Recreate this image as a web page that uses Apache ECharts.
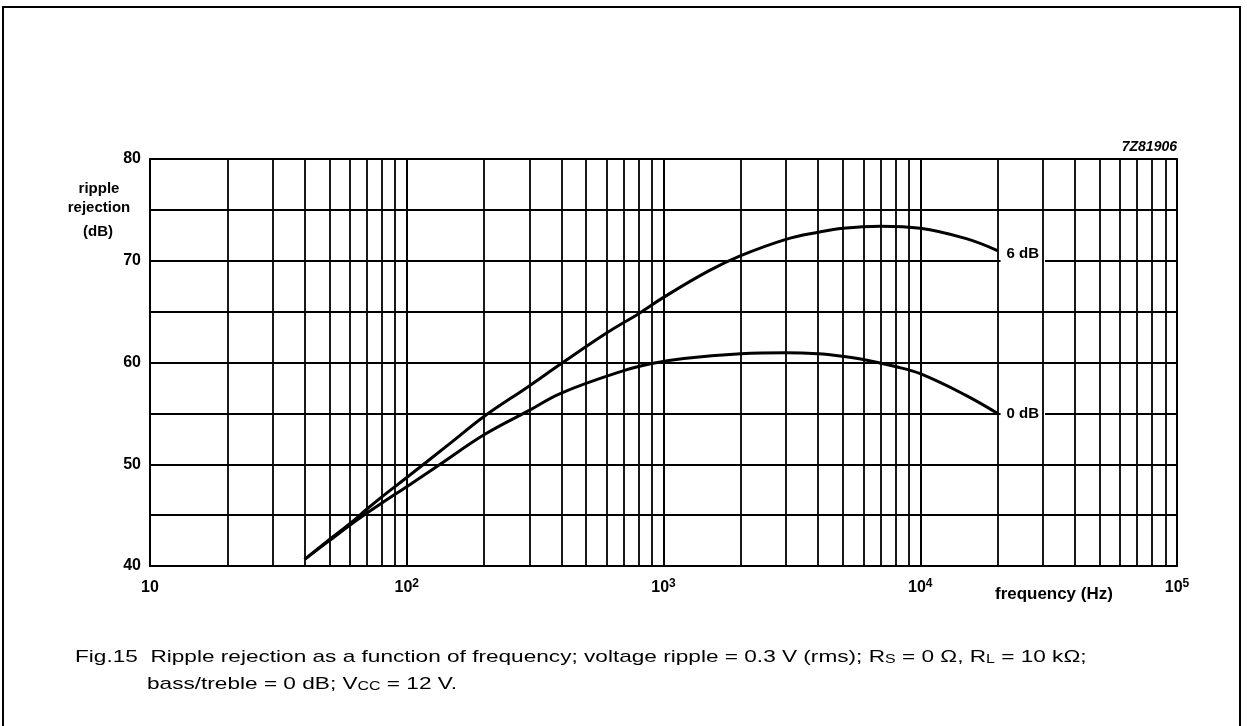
<!DOCTYPE html>
<html>
<head>
<meta charset="utf-8">
<title>Ripple rejection as a function of frequency</title>
<script src="https://cdn.jsdelivr.net/npm/echarts@6/dist/echarts.min.js"></script>
<style>
    html, body { margin: 0; padding: 0; background: #fff; }
    #chart { width: 1247px; height: 726px; }
</style>
</head>
<body>
<div id="chart"></div>
<script>
// values: frequency (Hz) -> ripple rejection (dB)
const freq6dB = [40, 50, 60, 70, 80, 100, 150, 200, 300, 400, 600, 800, 1000, 1500, 2000, 3000, 4000, 5000, 7000, 10000, 15000, 20000];
const rejection6dB = [40.65, 42.6, 44.15, 45.6, 46.8, 48.7, 52.2, 54.7, 57.7, 59.9, 62.9, 64.8, 66.4, 69.0, 70.5, 72.1, 72.8, 73.2, 73.4, 73.2, 72.2, 71.0];

const freq0dB = [40, 50, 60, 70, 80, 100, 135, 200, 300, 400, 700, 900, 1200, 2000, 3000, 4000, 5000, 6000, 8000, 10000, 15000, 20000];
const rejection0dB = [40.65, 42.5, 44.0, 45.2, 46.2, 47.8, 50.0, 52.9, 55.3, 57.0, 59.2, 59.9, 60.4, 60.85, 60.95, 60.85, 60.6, 60.3, 59.6, 58.9, 56.8, 55.0];

const xTicks = [10, 100, 1000, 10000, 100000];
const xTickExp = ['', '2', '3', '4', '5'];
const yTicks = [40, 50, 60, 70, 80];

// log paper: 2..9 lines inside every decade
let minorFreqs = [];
for (let i = 0; i < xTicks.length - 1; i++) {
    for (let m = 2; m <= 9; m++) {
        minorFreqs.push(xTicks[i] * m);
    }
}

const zip = (xs, ys) => xs.map((x, i) => [x, ys[i]]);
const labelFont = "'Liberation Sans', Arial, sans-serif";

let chart = echarts.init(document.getElementById('chart'));
let option = {
    backgroundColor: '#fff',
    animation: false,
    grid: {
        left: 150,
        right: 70,
        top: 159,
        bottom: 160,
        show: true,
        borderColor: '#000',
        borderWidth: 2
    },
    xAxis: {
        type: 'log',
        logBase: 10,
        min: 10,
        max: 100000,
        axisLine: { show: true, lineStyle: { color: '#000', width: 2 } },
        axisTick: { show: false },
        splitLine: { show: true, lineStyle: { color: '#000', width: 2 } },
        axisLabel: {
            margin: 12,
            formatter: function (v) {
                let i = xTicks.indexOf(Math.round(v));
                if (i < 0) return '';
                return xTickExp[i] ? '{b|10}{s|' + xTickExp[i] + '}' : '{b|10}';
            },
            rich: {
                b: { fontFamily: labelFont, fontWeight: 'bold', fontSize: 16, color: '#000', lineHeight: 20 },
                s: { fontFamily: labelFont, fontWeight: 'bold', fontSize: 12, color: '#000', verticalAlign: 'top', lineHeight: 20 }
            }
        }
    },
    yAxis: {
        type: 'value',
        min: 40,
        max: 80,
        interval: 5,
        axisLine: { show: true, lineStyle: { color: '#000', width: 2 } },
        axisTick: { show: false },
        splitLine: { show: true, lineStyle: { color: '#000', width: 2 } },
        axisLabel: {
            margin: 9,
            color: '#000',
            fontFamily: labelFont,
            fontWeight: 'bold',
            fontSize: 16,
            formatter: v => (yTicks.indexOf(v) >= 0 ? String(v) : '')
        }
    },
    series: [
        {
            name: '0 dB',
            type: 'line',
            smooth: 0.4,
            symbol: 'none',
            data: zip(freq0dB, rejection0dB),
            lineStyle: { color: '#000', width: 3 },
            markLine: {
                silent: true,
                symbol: 'none',
                label: { show: false },
                lineStyle: { color: '#000', width: 1.8, type: 'solid' },
                data: minorFreqs.map(f => ({ xAxis: f }))
            },
            endLabel: {
                show: true,
                formatter: '0 dB',
                color: '#000',
                fontFamily: labelFont,
                fontWeight: 'bold',
                fontSize: 15,
                backgroundColor: '#fff',
                padding: [3, 6],
                distance: 3
            }
        },
        {
            name: '6 dB',
            type: 'line',
            smooth: 0.4,
            symbol: 'none',
            data: zip(freq6dB, rejection6dB),
            lineStyle: { color: '#000', width: 3 },
            endLabel: {
                show: true,
                formatter: '6 dB',
                color: '#000',
                fontFamily: labelFont,
                fontWeight: 'bold',
                fontSize: 15,
                backgroundColor: '#fff',
                padding: [3, 6],
                distance: 3,
                offset: [0, 3]
            }
        }
    ],
    graphic: [
        {
            type: 'rect',
            shape: { x: 3, y: 7, width: 1237, height: 800 },
            style: { fill: null, stroke: '#000', lineWidth: 2 },
            silent: true
        },
        {
            type: 'text',
            x: 1177,
            y: 140,
            style: {
                text: '7Z81906',
                font: "italic bold 14px 'Liberation Sans', Arial, sans-serif",
                fill: '#000',
                align: 'right',
                verticalAlign: 'top'
            }
        },
        {
            type: 'text',
            x: 99,
            y: 179,
            style: {
                text: 'ripple\nrejection',
                font: "bold 15px 'Liberation Sans', Arial, sans-serif",
                fill: '#000',
                align: 'center',
                verticalAlign: 'top',
                lineHeight: 19
            }
        },
        {
            type: 'text',
            x: 98,
            y: 224,
            style: {
                text: '(dB)',
                font: "bold 15px 'Liberation Sans', Arial, sans-serif",
                fill: '#000',
                align: 'center',
                verticalAlign: 'top'
            }
        },
        {
            type: 'text',
            x: 995,
            y: 587,
            scaleX: 1.06,
            style: {
                text: 'frequency (Hz)',
                font: "bold 16px 'Liberation Sans', Arial, sans-serif",
                fill: '#000',
                verticalAlign: 'top'
            }
        },
        {
            type: 'text',
            x: 75,
            y: 649,
            scaleX: 1.33,
            style: {
                text: 'Fig.15  Ripple rejection as a function of frequency; voltage ripple = 0.3 V (rms); R{sub|S} = 0 Ω, R{sub|L} = 10 kΩ;',
                font: "17px 'Liberation Sans', Arial, sans-serif",
                fill: '#000',
                verticalAlign: 'top',
                rich: {
                    sub: { fontSize: 12, fontFamily: labelFont, verticalAlign: 'bottom' }
                }
            }
        },
        {
            type: 'text',
            x: 147,
            y: 676,
            scaleX: 1.33,
            style: {
                text: 'bass/treble = 0 dB; V{sub|CC} = 12 V.',
                font: "17px 'Liberation Sans', Arial, sans-serif",
                fill: '#000',
                verticalAlign: 'top',
                rich: {
                    sub: { fontSize: 12, fontFamily: labelFont, verticalAlign: 'bottom' }
                }
            }
        }
    ]
};
chart.setOption(option);
</script>
</body>
</html>
